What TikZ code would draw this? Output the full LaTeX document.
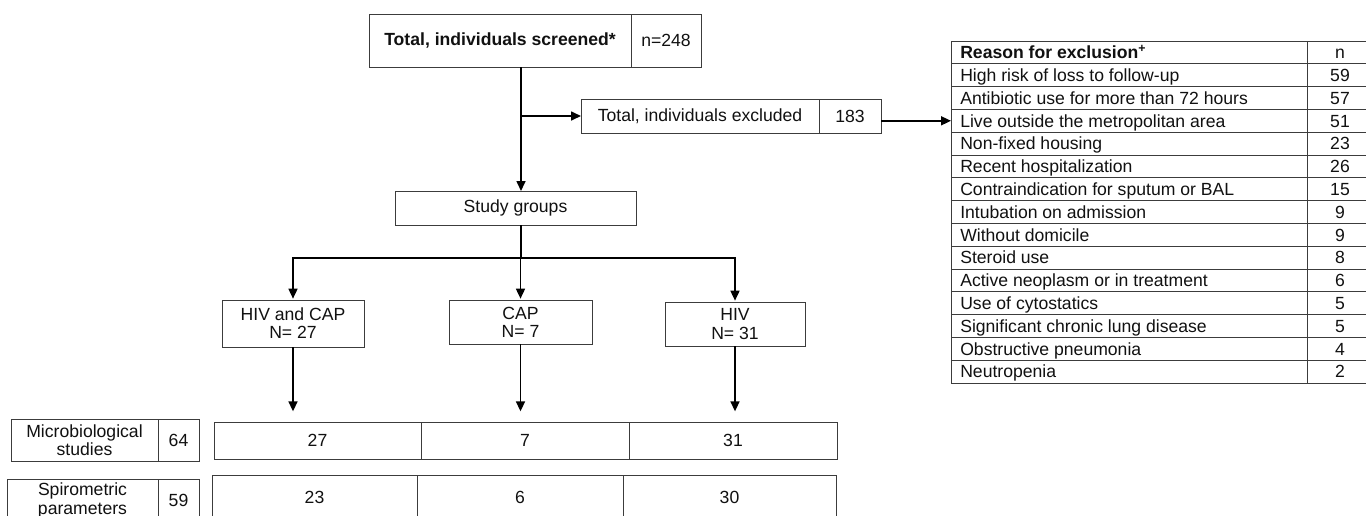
\documentclass[tikz,border=0pt]{standalone}
\usepackage{fontspec}
\setmainfont{Liberation Sans}
\usetikzlibrary{arrows.meta}
\definecolor{boxgray}{HTML}{3C3C3C}
\definecolor{txt}{HTML}{111111}
\newcommand\dfont{\fontsize{13.2}{13.6}\selectfont}
% \cellbox{name}{x1}{y1}{x2}{y2}{text}
\newcommand\cellbox[6]{%
  \node[box, minimum width={(#4-#2)*0.75pt}, minimum height={(#5-#3)*0.75pt},
        anchor=north west] (#1) at (#2,#3) {#6};}
\begin{document}
\begin{tikzpicture}[x=0.75pt,y=-0.75pt,
  box/.style={draw=boxgray, line width=0.75pt, inner sep=0pt, outer sep=0pt, fill=white, align=center, font=\dfont, text=txt},
  lbl/.style={inner sep=0pt, font=\dfont, text=txt, anchor=base west},
  conn/.style={draw=black, line width=1.2pt},
  arr/.style={conn, -{Triangle[length=7.5pt,width=6.75pt]}}]
\useasboundingbox (0,0) rectangle (1366,515);
\fill[white] (0,0) rectangle (1366,515);
\clip (0,0) rectangle (1366,515);

% top
\cellbox{scr}{369}{14}{631}{67}{\textbf{Total, individuals screened*}}
\cellbox{scrn}{631}{14}{701}{67}{n=248}
\coordinate (spine) at (521,0);

% excluded
\cellbox{exc}{581}{99}{819}{133}{Total, individuals excluded}
\cellbox{excn}{819}{99}{881}{133}{183}

% study groups
\cellbox{study}{395}{191}{636}{225}{Study groups}
\coordinate (br) at (521,258);

% groups
\cellbox{g1}{222}{300}{364}{347}{HIV and CAP\\N= 27}
\cellbox{g2}{449}{300}{592}{344}{CAP\\N= 7}
\cellbox{g3}{665}{302}{805}{346}{HIV\\N= 31}

% bottom rows
\cellbox{m1}{11}{419}{158}{461}{Microbiological\\studies}
\cellbox{m2}{158}{419}{199}{461}{64}
\cellbox{c1}{214}{422}{421}{459}{27}
\cellbox{c2}{421}{422}{629}{459}{7}
\cellbox{c3}{629}{422}{837}{459}{31}
\cellbox{s1}{7}{479}{158}{522}{Spirometric\\parameters}
\cellbox{s2}{158}{479}{199}{522}{59}
\cellbox{d1}{212}{475}{417}{519}{23}
\cellbox{d2}{417}{475}{623}{519}{6}
\cellbox{d3}{623}{475}{836}{519}{30}

% table
\foreach \t/\n [count=\i from 0] in {
  {\textbf{Reason for exclusion}\textsuperscript{\textbf{+}}}/n,
  High risk of loss to follow-up/59,
  Antibiotic use for more than 72 hours/57,
  Live outside the metropolitan area/51,
  Non-fixed housing/23,
  Recent hospitalization/26,
  Contraindication for sputum or BAL/15,
  Intubation on admission/9,
  Without domicile/9,
  Steroid use/8,
  Active neoplasm or in treatment/6,
  Use of cytostatics/5,
  Significant chronic lung disease/5,
  Obstructive pneumonia/4,
  Neutropenia/2}{
  \pgfmathsetmacro\ytop{41+22.8*\i}
  \pgfmathsetmacro\ybot{41+22.8*(\i+1)}
  \cellbox{r\i}{951}{\ytop}{1307}{\ybot}{}
  \node[lbl] (t\i) at ([xshift=6.75pt,yshift=-4.7pt]r\i.west) {\t};
  \cellbox{n\i}{1307}{\ytop}{1373}{\ybot}{}
  \node[lbl, anchor=base] (v\i) at ([yshift=-4.7pt]n\i.center) {\n};
}

% connectors
\draw[arr] (scr.south -| spine) -- (study.north -| spine);
\draw[arr] (spine |- exc.west) -- (exc.west);
\draw[arr] (excn.east |- r3.west) -- (r3.west);
\draw[conn] (study.south -| spine) -- (br);
\draw[arr, shorten >=1pt] (br) -| (g1.north);
\draw[arr, shorten >=1pt] (br) -- (br -| g2.north) -- (g2.north);
\draw[arr, shorten >=1pt] (br) -| (g3.north);
\draw[arr, shorten >=8pt] (g1.south) -- (g1.south |- c1.north);
\draw[arr, shorten >=8pt] (g2.south) -- (g2.south |- c2.north);
\draw[arr, shorten >=8pt] (g3.south) -- (g3.south |- c3.north);
\end{tikzpicture}
\end{document}
